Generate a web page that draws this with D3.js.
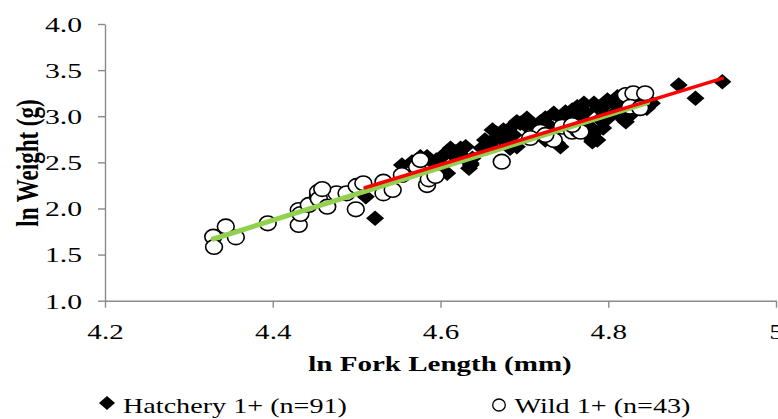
<!DOCTYPE html>
<html>
<head>
<meta charset="utf-8">
<script src="https://cdn.jsdelivr.net/npm/d3@7"></script>
<style>
  html, body { margin: 0; padding: 0; background: #fff; }
  svg { display: block; }
  text { font-family: "Liberation Serif", "Times New Roman", serif; fill: #000; }
</style>
</head>
<body>
<svg id="chart" width="778" height="419"></svg>
<script>
// ln fork length (mm) vs ln weight (g), hatchery and wild 1+ fish
const hatcheryX = [4.511, 4.522, 4.554, 4.576, 4.584, 4.602, 4.606, 4.608, 4.612, 4.624,
  4.624, 4.630, 4.634, 4.636, 4.638, 4.667, 4.667, 4.675, 4.679, 4.691,
  4.691, 4.695, 4.701, 4.703, 4.733, 4.735, 4.739, 4.743, 4.763, 4.763,
  4.767, 4.767, 4.771, 4.779, 4.781, 4.781, 4.783, 4.785, 4.787, 4.791,
  4.793, 4.797, 4.799, 4.811, 4.815, 4.819, 4.819, 4.821, 4.826, 4.829,
  4.846, 4.852, 4.884, 4.904, 4.936, 4.683, 4.600, 4.617, 4.636,
  4.653, 4.659, 4.671, 4.683, 4.687, 4.707, 4.713, 4.725, 4.729, 4.749,
  4.753, 4.757, 4.773, 4.776, 4.788, 4.794, 4.805, 4.809, 4.824, 4.832,
  4.618, 4.626, 4.595, 4.590, 4.649, 4.662, 4.719, 4.743, 4.800, 4.838,
  4.725, 4.566];
const hatcheryY = [2.128, 1.893, 2.471, 2.561, 2.561, 2.561, 2.598, 2.381, 2.652, 2.652,
  2.634, 2.670, 2.436, 2.490, 2.544, 2.778, 2.815, 2.851, 2.742, 2.670,
  2.941, 2.923, 2.905, 2.978, 2.778, 3.032, 2.707, 2.670, 3.103, 2.887,
  3.086, 2.995, 3.140, 2.778, 2.742, 2.724, 3.140, 2.832, 2.742, 2.959,
  2.995, 3.122, 3.176, 3.212, 3.158, 3.230, 2.959, 2.941, 3.249, 3.032,
  3.086, 3.140, 3.339, 3.194, 3.374, 2.652, 2.417, 2.561, 2.472,
  2.742, 2.688, 2.764, 2.872, 2.796, 2.938, 2.872, 2.981, 2.905, 3.046,
  2.959, 3.068, 3.046, 2.905, 3.089, 2.872, 3.154, 3.046, 3.122, 3.176,
  2.612, 2.569, 2.526, 2.504, 2.656, 2.851, 2.938, 2.981, 2.981, 3.198,
  2.742, 2.504];

const wildX = [4.329, 4.330, 4.344, 4.356, 4.394, 4.431, 4.431, 4.433, 4.443, 4.454,
  4.454, 4.455, 4.465, 4.476, 4.488, 4.499, 4.500, 4.508, 4.532, 4.532,
  4.543, 4.554, 4.572, 4.576, 4.584, 4.586, 4.673, 4.719, 4.735, 4.745,
  4.757, 4.764, 4.767, 4.821, 4.830, 4.844, 4.826, 4.707, 4.838, 4.725,
  4.459, 4.594, 4.757];
const wildY = [1.694, 1.582, 1.805, 1.687, 1.839, 1.983, 1.821, 1.940, 2.038, 2.128,
  2.179, 2.103, 2.019, 2.164, 2.164, 1.991, 2.244, 2.273, 2.290, 2.164,
  2.200, 2.363, 2.453, 2.525, 2.254, 2.316, 2.507, 2.832, 2.742, 2.887,
  2.832, 2.851, 2.832, 3.230, 3.249, 3.249, 3.103, 2.764, 3.088, 2.797,
  2.210, 2.352, 2.905];

// fitted trend lines, as [x, y] end points
const hatcheryFit = [[4.510, 2.225], [4.936, 3.411]];
const wildFit = [[4.329, 1.669], [4.847, 3.147]];

const xTicks = [4.2, 4.4, 4.6, 4.8, 5.0];
const yTicks = [1.0, 1.5, 2.0, 2.5, 3.0, 3.5, 4.0];
const xTitle = "ln Fork Length (mm)";
const yTitle = "ln Weight (g)";
const legendLabels = ["Hatchery 1+ (n=91)", "Wild 1+ (n=43)"];

const svg = d3.select("#chart");
const x = d3.scaleLinear().domain([4.2, 5.0]).range([105, 776]);
const y = d3.scaleLinear().domain([1.0, 4.0]).range([300.7, 24]);
const axisColor = "#8a8a8a";

// y axis
const gy = svg.append("g").attr("transform", "translate(105,0)")
  .call(d3.axisLeft(y).tickValues(yTicks).tickFormat(d3.format(".1f")).tickSize(7).tickSizeOuter(0));
gy.select(".domain").attr("stroke", axisColor).attr("stroke-width", 1.4);
gy.selectAll(".tick line").attr("stroke", axisColor).attr("stroke-width", 1.4);
gy.selectAll(".tick text")
  .attr("x", null).attr("dy", null).attr("y", 7.3)
  .attr("transform", "translate(-23,0) scale(1.35,1)")
  .attr("text-anchor", "end")
  .style("font-size", "22px").style("font-family", "Liberation Serif").attr("fill", "#000");

// x axis
const gx = svg.append("g").attr("transform", `translate(0,${y(1.0)})`)
  .call(d3.axisBottom(x).tickValues(xTicks).tickFormat(d3.format("")).tickSize(7).tickSizeOuter(0));
gx.select(".domain").attr("stroke", axisColor).attr("stroke-width", 1.4);
gx.selectAll(".tick line").attr("stroke", axisColor).attr("stroke-width", 1.4);
gx.selectAll(".tick text")
  .attr("dy", null).attr("y", 38)
  .attr("transform", "scale(1.35,1)")
  .attr("text-anchor", "middle")
  .style("font-size", "21.5px").style("font-family", "Liberation Serif").attr("fill", "#000");

// axis titles
svg.append("text")
  .attr("transform", "translate(440,371) scale(1.35,1)")
  .attr("text-anchor", "middle")
  .style("font-size", "21.5px").style("font-weight", "bold")
  .text(xTitle);
svg.append("text")
  .attr("transform", "translate(38,163) scale(1.4,1) rotate(-90)")
  .attr("text-anchor", "middle")
  .style("font-size", "23px").style("font-weight", "bold")
  .text(yTitle);

// markers
const diamond = (cx, cy, w, h) => `M${cx},${cy - h / 2}L${cx + w / 2},${cy}L${cx},${cy + h / 2}L${cx - w / 2},${cy}Z`;
svg.append("g").selectAll("path")
  .data(d3.range(hatcheryX.length))
  .join("path")
  .attr("d", i => diamond(x(hatcheryX[i]), y(hatcheryY[i]), 18, 15.5))
  .attr("fill", "#000");

svg.append("g").selectAll("ellipse")
  .data(d3.range(wildX.length))
  .join("ellipse")
  .attr("cx", i => x(wildX[i]))
  .attr("cy", i => y(wildY[i]))
  .attr("rx", 8.4).attr("ry", 7.3)
  .attr("fill", "#fff").attr("stroke", "#000").attr("stroke-width", 1.6);

// trend lines
const line = d3.line().x(d => x(d[0])).y(d => y(d[1]));
svg.append("path").attr("d", line(wildFit))
  .attr("fill", "none").attr("stroke", "#92D050").attr("stroke-width", 5).attr("stroke-linecap", "round");
svg.append("path").attr("d", line(hatcheryFit))
  .attr("fill", "none").attr("stroke", "#FF0000").attr("stroke-width", 3.5).attr("stroke-linecap", "round");

// legend
const lg = svg.append("g");
lg.append("path").attr("d", diamond(107, 403, 16, 14)).attr("fill", "#000");
lg.append("text")
  .attr("transform", "translate(123,412.5) scale(1.28,1)")
  .style("font-size", "22px")
  .text(legendLabels[0]);
lg.append("ellipse").attr("cx", 499).attr("cy", 405).attr("rx", 6.3).attr("ry", 6)
  .attr("fill", "#fff").attr("stroke", "#000").attr("stroke-width", 1.3);
lg.append("text")
  .attr("transform", "translate(514.5,412.5) scale(1.28,1)")
  .style("font-size", "22px")
  .text(legendLabels[1]);
</script>
</body>
</html>
